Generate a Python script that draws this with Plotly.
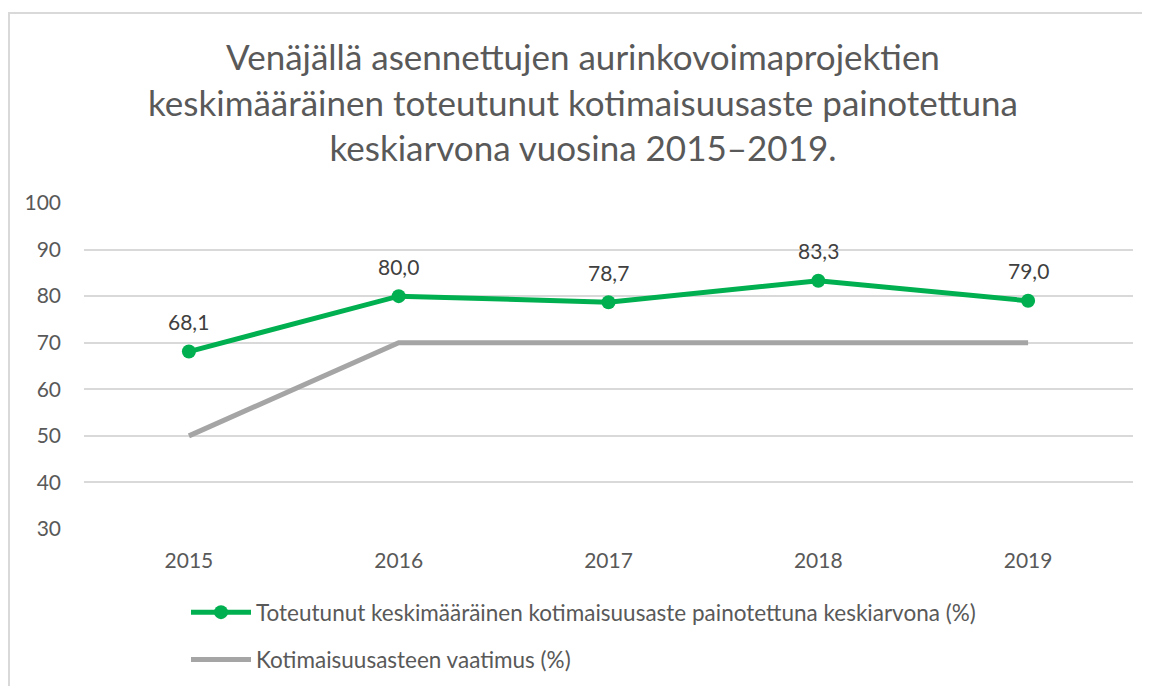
import plotly.graph_objects as go

years = ["2015", "2016", "2017", "2018", "2019"]
toteutunut = [68.1, 80.0, 78.7, 83.3, 79.0]
vaatimus = [50, 70, 70, 70, 70]
name_green = "Toteutunut keskimääräinen kotimaisuusaste painotettuna keskiarvona (%)"
name_gray = "Kotimaisuusasteen vaatimus (%)"
title_text = ("Venäjällä asennettujen aurinkovoimaprojektien<br>"
              "keskimääräinen toteutunut kotimaisuusaste painotettuna<br>"
              "keskiarvona vuosina 2015–2019.")

FONT = "Lato"
# page body has 8px offset; figure coords = screen coords - 8
L, T, R, B = 76, 195, 25, 165
PW, PH = 1150 - L - R, 686 - T - B

fig = go.Figure()
fig.add_trace(go.Scatter(x=years, y=toteutunut, name=name_green, mode="lines+markers",
                         legendgroup="a",
                         line=dict(color="#00B050", width=5),
                         marker=dict(size=14, color="#00B050")))
fig.add_trace(go.Scatter(x=years, y=vaatimus, name=name_gray, mode="lines",
                         legendgroup="b",
                         line=dict(color="#A5A5A5", width=5)))

for i, v in enumerate(toteutunut):
    fig.add_annotation(x=i, y=v, text=f"{v:.1f}".replace(".", ","), showarrow=False,
                       yshift=30, font=dict(family=FONT, size=21, color="#404040"))

fig.add_shape(type="rect", xref="paper", yref="paper",
              x0=(1 - L) / PW, x1=1.2, y0=-1.0, y1=(PH + T - 5) / PH,
              line=dict(color="#D9D9D9", width=2), fillcolor="rgba(0,0,0,0)")

fig.update_layout(
    width=1150, height=686,
    margin=dict(l=L, r=R, t=T, b=B),
    paper_bgcolor="white", plot_bgcolor="white",
    title=dict(text=title_text, x=0.5, xanchor="center", y=1 - 62 / 686, yanchor="middle",
               yref="container", font=dict(family=FONT, size=35, color="#595959")),
    font=dict(family=FONT, size=21, color="#595959"),
    xaxis=dict(type="category", range=[-0.5, 4.5], showgrid=False, showline=False,
               ticks="", ticklabelstandoff=17, tickfont=dict(size=21, color="#595959")),
    yaxis=dict(range=[30, 100], dtick=10, showgrid=True, gridcolor="#D9D9D9", gridwidth=1.5,
               zeroline=False, showline=False, ticks="", ticklabelstandoff=22,
               tickfont=dict(size=21, color="#595959")),
    legend=dict(orientation="v", x=(178 - L) / PW, xanchor="left", y=(PH - (583 - T)) / PH,
                yanchor="top", traceorder="grouped",
                font=dict(family=FONT, size=22.5, color="#595959"), tracegroupgap=15,
                itemwidth=60),
    showlegend=True,
)
fig.write_html("out.html")
